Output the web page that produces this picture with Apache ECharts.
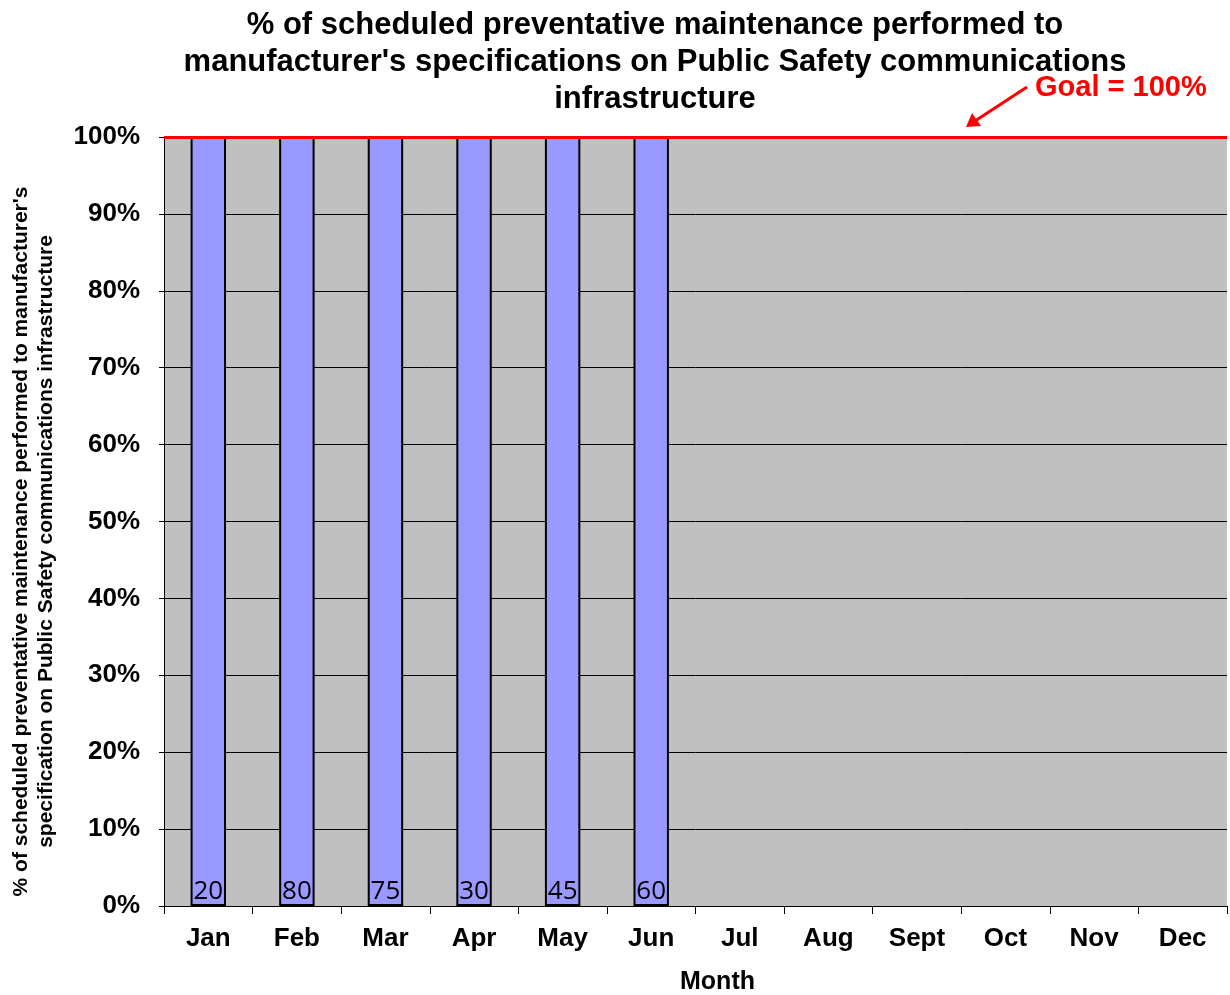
<!DOCTYPE html>
<html>
<head>
<meta charset="utf-8">
<script src="https://cdn.jsdelivr.net/npm/echarts@6/dist/echarts.min.js"></script>
<style>html,body{margin:0;padding:0;background:#fff}#c{width:1230px;height:995px}</style>
</head>
<body>
<div id="c"></div>
<script>
const months = ['Jan','Feb','Mar','Apr','May','Jun','Jul','Aug','Sept','Oct','Nov','Dec'];
const percentPerformed = [100,100,100,100,100,100,null,null,null,null,null,null];
const countLabels = ['20','80','75','30','45','60','','','','','',''];
const goalValue = 100;
const yTicks = [0,10,20,30,40,50,60,70,80,90,100];

const chart = echarts.init(document.getElementById('c'));
chart.setOption({
  animation: false,
  backgroundColor: '#ffffff',
  title: {
    text: "% of scheduled preventative maintenance performed to\nmanufacturer's specifications on Public Safety communications\ninfrastructure",
    left: 650, textAlign: 'center', top: 2,
    textStyle: {fontFamily: 'Liberation Sans', fontWeight: 'bold', fontSize: 31, lineHeight: 37, color: '#000'}
  },
  grid: {left: 164, right: 3, top: 137, bottom: 89, show: true, backgroundColor: '#C0C0C0', borderWidth: 0, outerBoundsMode: 'none', containLabel: false},
  xAxis: {
    type: 'category', data: months,
    name: 'Month', nameLocation: 'middle', nameGap: 64,
    nameTextStyle: {fontFamily: 'Liberation Sans', fontWeight: 'bold', fontSize: 25, color: '#000', padding: [0, 0, 0, 44]},
    axisLine: {lineStyle: {color: '#000', width: 1}},
    axisTick: {show: true, length: 8, lineStyle: {color: '#000'}},
    axisLabel: {fontFamily: 'Liberation Sans', fontWeight: 'bold', fontSize: 26, color: '#000', margin: 20}
  },
  yAxis: {
    type: 'value', min: 0, max: 100, interval: 10,
    name: "% of scheduled preventative maintenance performed to manufacturer's\nspecification on Public Safety communications infrastructure",
    nameLocation: 'middle', nameGap: 105, nameRotate: 90,
    nameTextStyle: {fontFamily: 'Liberation Sans', fontWeight: 'bold', fontSize: 21, lineHeight: 25, color: '#000', padding: [0, 40, 0, 0]},
    axisLine: {show: true, lineStyle: {color: '#000', width: 1}},
    axisTick: {show: true, length: 5, lineStyle: {color: '#000'}},
    splitLine: {show: true, lineStyle: {color: '#000', width: 1}},
    axisLabel: {formatter: v => yTicks.includes(v) ? v + '%' : '', fontFamily: 'Liberation Sans', fontWeight: 'bold', fontSize: 26, color: '#000', margin: 24}
  },
  series: [{
    type: 'bar', data: percentPerformed, barWidth: '40%',
    itemStyle: {color: '#9999FF', borderColor: '#000', borderWidth: 2},
    label: {show: true, position: 'insideBottom', distance: 1,
      formatter: p => countLabels[p.dataIndex],
      fontFamily: 'Open Sans', fontSize: 26, color: '#000'},
    markLine: {
      silent: true, symbol: ['none','none'], label: {show: false},
      lineStyle: {color: '#FF0000', width: 3, type: 'solid'},
      data: [{yAxis: goalValue}]
    }
  }],
  graphic: [
    {type: 'text', left: 1035, top: 73, style: {text: 'Goal = 100%', fill: '#FF0000', font: 'bold 29px "Liberation Sans"'}},
    {type: 'line', shape: {x1: 1027, y1: 87, x2: 975, y2: 121}, style: {stroke: '#FF0000', lineWidth: 3}},
    {type: 'polygon', shape: {points: [[966,127],[972,113],[981,126]]}, style: {fill: '#FF0000'}}
  ]
});
</script>
</body>
</html>
